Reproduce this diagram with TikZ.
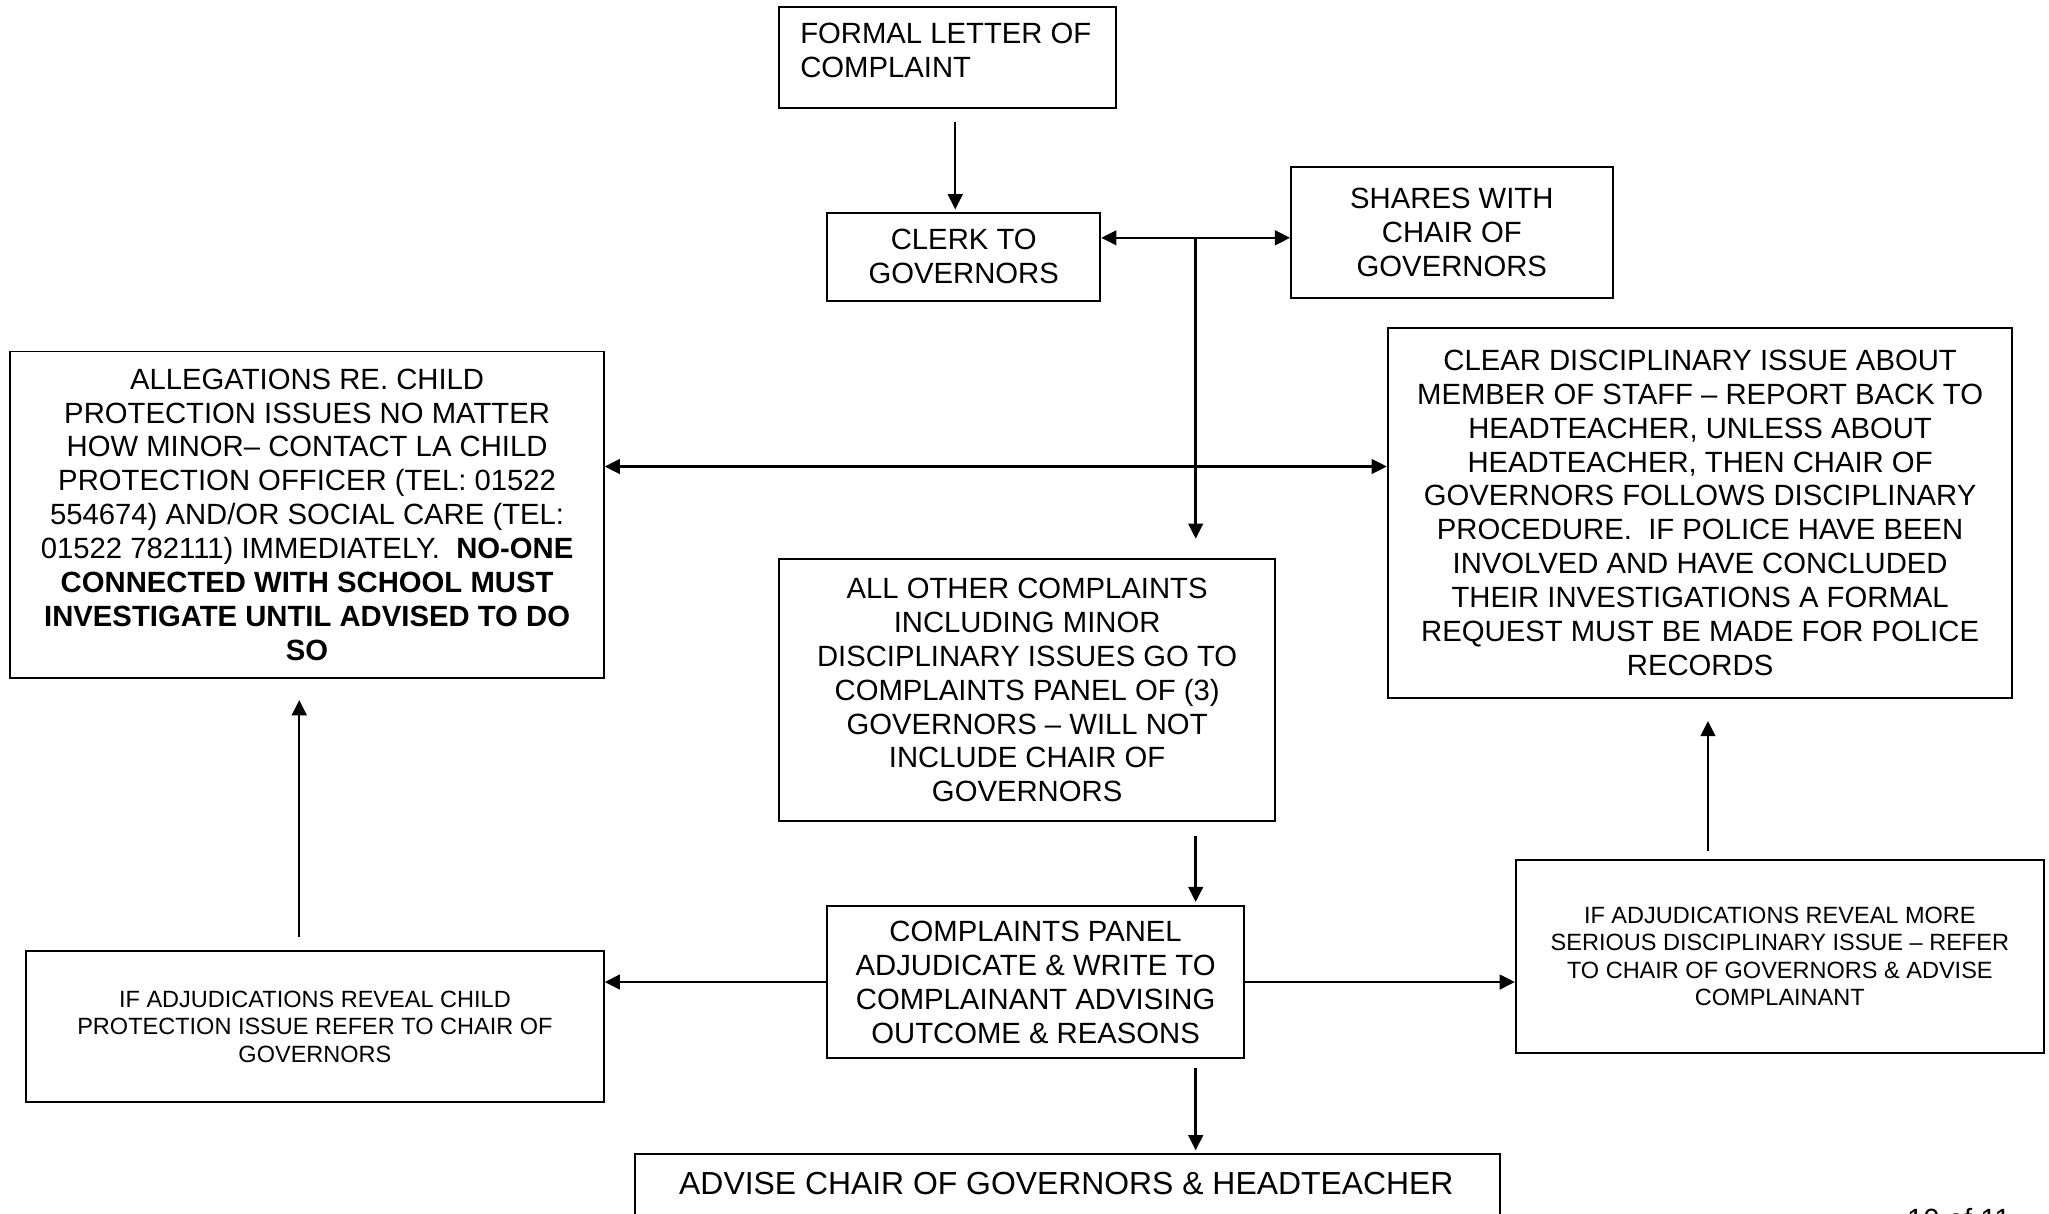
\documentclass[tikz,border=0pt]{standalone}
\usepackage{fontspec}
\setmainfont{Liberation Sans}
\usetikzlibrary{arrows.meta,calc}
\tikzset{
  box/.style={draw, line width=0.75pt, inner sep=0pt, align=center},
  main/.style={font=\fontsize{11.2pt}{13pt}\selectfont},
  small/.style={font=\fontsize{9pt}{10.5pt}\selectfont},
  big/.style={font=\fontsize{12.2pt}{13pt}\selectfont},
  arr/.style={-{Triangle[length=5.8pt,width=5.6pt]}, line width=0.95pt},
  darr/.style={{Triangle[length=5.8pt,width=5.6pt]}-{Triangle[length=5.8pt,width=5.6pt]}, line width=0.95pt},
}
\begin{document}
\begin{tikzpicture}[x=0.5pt,y=-0.5pt]
\useasboundingbox (0,0) rectangle (1568,929);
\clip (0,0) rectangle (1568,929);
\fill[white] (0,0) rectangle (1568,929);

\node[box, minimum width=129pt, minimum height=39pt] (formal) at (725,44) {};
\node[main, anchor=north west, inner sep=0pt, align=left] (formaltxt) at (612,17) {FORMAL LETTER OF\\COMPLAINT};

\node[box, main, minimum width=104.5pt, minimum height=33.5pt] (clerk) at (737.5,196.5) {CLERK TO\\GOVERNORS};
\node[box, main, minimum width=123pt, minimum height=50pt] (shares) at (1111,178) {SHARES WITH\\CHAIR OF\\GOVERNORS};

\node[box, main, minimum width=227pt, minimum height=125pt] (alleg) at (235,394) {ALLEGATIONS RE. CHILD\\PROTECTION ISSUES NO MATTER\\HOW MINOR– CONTACT LA CHILD\\PROTECTION OFFICER (TEL: 01522\\554674) AND/OR SOCIAL CARE (TEL:\\01522 782111) IMMEDIATELY.\ \ \textbf{NO-ONE}\\\textbf{CONNECTED WITH SCHOOL MUST}\\\textbf{INVESTIGATE UNTIL ADVISED TO DO}\\\textbf{SO}};

\node[box, main, minimum width=239pt, minimum height=141.5pt] (clear) at (1301,392.5) {CLEAR DISCIPLINARY ISSUE ABOUT\\MEMBER OF STAFF – REPORT BACK TO\\HEADTEACHER, UNLESS ABOUT\\HEADTEACHER, THEN CHAIR OF\\GOVERNORS FOLLOWS DISCIPLINARY\\PROCEDURE.\ \ IF POLICE HAVE BEEN\\INVOLVED AND HAVE CONCLUDED\\THEIR INVESTIGATIONS A FORMAL\\REQUEST MUST BE MADE FOR POLICE\\RECORDS};

\node[box, main, minimum width=190pt, minimum height=100pt] (other) at (786,528) {ALL OTHER COMPLAINTS\\INCLUDING MINOR\\DISCIPLINARY ISSUES GO TO\\COMPLAINTS PANEL OF (3)\\GOVERNORS – WILL NOT\\INCLUDE CHAIR OF\\GOVERNORS};

\node[box, main, minimum width=159.5pt, minimum height=58.5pt] (panel) at (792.5,751.5) {COMPLAINTS PANEL\\ADJUDICATE \& WRITE TO\\COMPLAINANT ADVISING\\OUTCOME \& REASONS};

\node[box, small, minimum width=221pt, minimum height=57.5pt] (adjchild) at (241,785.5) {IF ADJUDICATIONS REVEAL CHILD\\PROTECTION ISSUE REFER TO CHAIR OF\\GOVERNORS};

\node[box, small, minimum width=202pt, minimum height=74pt] (adjmore) at (1362,732) {IF ADJUDICATIONS REVEAL MORE\\SERIOUS DISCIPLINARY ISSUE – REFER\\TO CHAIR OF GOVERNORS \& ADVISE\\COMPLAINANT};

\node[box, minimum width=331pt, minimum height=40pt] (advise) at (817,923) {};
\node[big, inner sep=0pt] (advisetxt) at (816,906) {ADVISE CHAIR OF GOVERNORS \& HEADTEACHER};

\node[main, anchor=base west, inner sep=0pt] (page) at (1459,940.5) {10 of 11};

% connectors
\coordinate (fa) at (731,93);
\draw[arr] (fa) -- ($(fa |- clerk.north)+(0,-2)$);

\coordinate (hy) at (915,182);
\draw[darr] (hy -| clerk.east) -- (hy -| shares.west);
\draw[arr] (hy) -- ($(hy |- other.north)+(0,-15)$);

\coordinate (my) at (915,357);
\draw[darr] (my -| alleg.east) -- (my -| clear.west);

\coordinate (oa) at (915,640);
\draw[arr] (oa) -- ($(oa |- panel.north)+(0,-2)$);

\draw[arr] (panel.west) -- (panel.west -| adjchild.east);
\draw[arr] (panel.east) -- (panel.east -| adjmore.west);

\coordinate (pa) at (915,817);
\draw[arr] (pa) -- ($(pa |- advise.north)+(0,-2)$);

\coordinate (ca) at (229,717);
\draw[arr] (ca) -- ($(ca |- alleg.south)+(0,16)$);

\coordinate (ma) at (1307,651);
\draw[arr] (ma) -- ($(ma |- clear.south)+(0,17)$);
\end{tikzpicture}
\end{document}
